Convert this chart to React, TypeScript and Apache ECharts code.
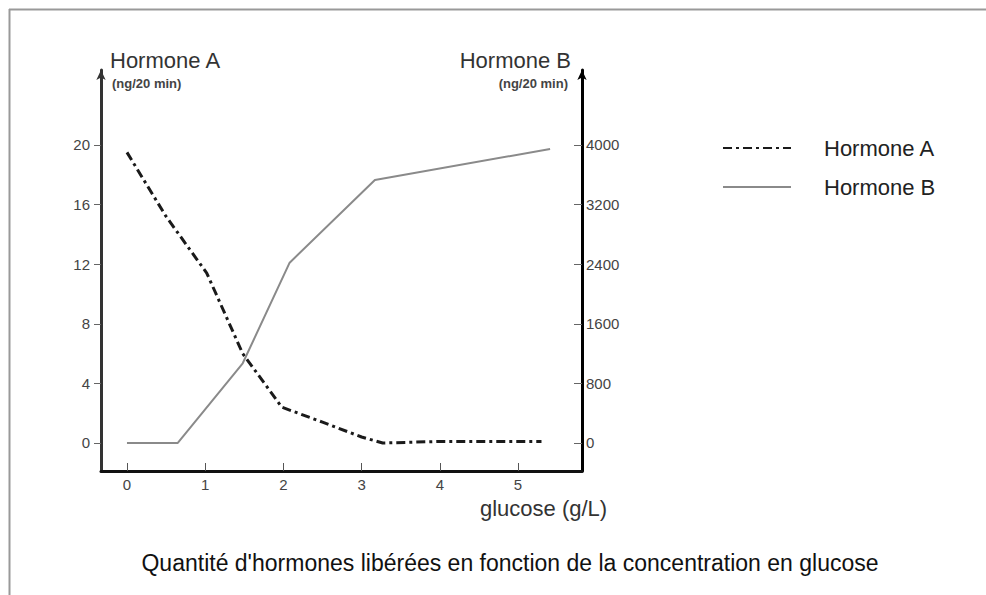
import React, { useEffect, useRef } from "react";
import * as echarts from "echarts";

const hormoneA: [number, number][] = [
  [0, 19.5], [0.5, 15.2], [1.02, 11.4], [1.48, 6.0], [1.98, 2.4], [2.5, 1.4], [3.0, 0.4], [3.27, 0.0], [4.0, 0.1], [5.3, 0.1],
];
const hormoneB: [number, number][] = [
  [0, 0], [0.65, 0], [1.48, 1070], [2.08, 2420], [3.17, 3530], [5.41, 3946],
];
const xTicks = [0, 1, 2, 3, 4, 5];
const yLeftTicks = [0, 4, 8, 12, 16, 20];
const yRightTicks = [0, 800, 1600, 2400, 3200, 4000];

const FONT = "'Liberation Sans', Arial, sans-serif";

export default function App() {
  const ref = useRef<HTMLDivElement>(null);
  useEffect(() => {
    if (!ref.current) return;
    const chart = echarts.init(ref.current, undefined, { renderer: "svg" });
    chart.setOption({
      animation: false,
      backgroundColor: "#ffffff",
      textStyle: { fontFamily: FONT },
      grid: { left: 101, right: 404, top: 70, bottom: 124, containLabel: false },
      legend: {
        orient: "vertical",
        left: 722,
        top: 137,
        padding: 0,
        itemWidth: 68,
        itemHeight: 14,
        itemGap: 17,
        itemStyle: { opacity: 0, color: "transparent", borderWidth: 0 },
        textStyle: { fontSize: 22, color: "#222", fontFamily: FONT, padding: [0, 0, 0, 28] },
        data: ["Hormone A", "Hormone B"],
      },
      xAxis: {
        type: "value",
        min: -0.332,
        max: 5.818,
        splitLine: { show: false },
        axisLine: { onZero: false, lineStyle: { color: "#111", width: 3 } },
        axisTick: { inside: true, length: 8, customValues: xTicks, lineStyle: { color: "#555", width: 1 } },
        axisLabel: { customValues: xTicks, margin: 6, fontSize: 15, color: "#444", fontFamily: FONT },
      },
      yAxis: [
        {
          type: "value",
          position: "left",
          min: -1.88,
          max: 25.03,
          splitLine: { show: false },
          axisLine: { show: true, onZero: false, symbol: ["none", "arrow"], symbolSize: [7, 10], lineStyle: { color: "#333", width: 3 } },
          axisTick: { show: true, length: 7, customValues: yLeftTicks, lineStyle: { color: "#666", width: 1 } },
          axisLabel: { customValues: yLeftTicks, margin: 11, fontSize: 15, color: "#444", fontFamily: FONT },
        },
        {
          type: "value",
          position: "right",
          min: -376,
          max: 5006,
          splitLine: { show: false },
          axisLine: { show: true, onZero: false, symbol: ["none", "arrow"], symbolSize: [7, 10], lineStyle: { color: "#000", width: 3 } },
          axisTick: { show: true, inside: true, length: 8, customValues: yRightTicks, lineStyle: { color: "#666", width: 1 } },
          axisLabel: { customValues: yRightTicks, margin: 4, fontSize: 15, color: "#444", fontFamily: FONT, formatter: (v: number) => String(v) },
        },
      ],
      series: [
        {
          name: "Hormone A",
          type: "line",
          yAxisIndex: 0,
          data: hormoneA,
          symbol: "none",
          lineStyle: { color: "#1a1a1a", width: 3, type: [9, 4, 3, 4] },
          itemStyle: { color: "#1a1a1a" },
        },
        {
          name: "Hormone B",
          type: "line",
          yAxisIndex: 1,
          data: hormoneB,
          symbol: "none",
          lineStyle: { color: "#8a8a8a", width: 2 },
          itemStyle: { color: "#8a8a8a" },
        },
      ],
      graphic: [
        { type: "line", shape: { x1: 9, y1: 9.5, x2: 986, y2: 9.5 }, style: { stroke: "#999", lineWidth: 2 } },
        { type: "line", shape: { x1: 9.5, y1: 9, x2: 9.5, y2: 595 }, style: { stroke: "#999", lineWidth: 2 } },
        { type: "text", x: 110, y: 49, style: { text: "Hormone A", fontSize: 22, fill: "#333", fontFamily: FONT } },
        { type: "text", x: 112, y: 77, style: { text: "(ng/20 min)", fontSize: 13, fontWeight: "bold", fill: "#444", fontFamily: FONT } },
        { type: "text", x: 571, y: 49, style: { text: "Hormone B", fontSize: 22, fill: "#333", fontFamily: FONT, textAlign: "right" } },
        { type: "text", x: 568, y: 77, style: { text: "(ng/20 min)", fontSize: 13, fontWeight: "bold", fill: "#444", fontFamily: FONT, textAlign: "right" } },
        { type: "text", x: 480, y: 497, style: { text: "glucose (g/L)", fontSize: 22, fill: "#333", fontFamily: FONT } },
        { type: "text", x: 510, y: 551, style: { text: "Quantité d'hormones libérées en fonction de la concentration en glucose", fontSize: 23, fill: "#111", fontFamily: FONT, textAlign: "center" } },
      ],
    });
    return () => chart.dispose();
  }, []);
  return <div ref={ref} style={{ position: "absolute", left: 0, top: 0, width: 986, height: 595 }} />;
}
